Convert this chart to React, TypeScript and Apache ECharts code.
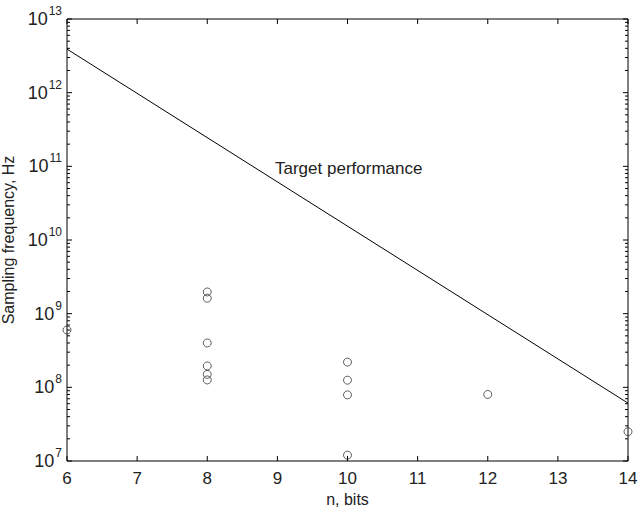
import React, { useEffect, useRef } from "react";
import * as echarts from "echarts";

const bitsA: number[] = [6, 8, 8, 8, 8, 8, 8, 10, 10, 10, 10, 12, 14];
const freqA: number[] = [6e8, 1.97e9, 1.62e9, 4.0e8, 1.95e8, 1.5e8, 1.26e8, 2.2e8, 1.25e8, 7.9e7, 1.2e7, 8e7, 2.5e7];
const targetBits: number[] = [6, 14];
const targetFreq: number[] = [3.9e12, 6.1e7];
const xTicks: number[] = [6, 7, 8, 9, 10, 11, 12, 13, 14];
const yDecades: number[] = [7, 8, 9, 10, 11, 12, 13];
const minorMultipliers: number[] = [2, 3, 4, 5, 6, 7, 8, 9];
const xLabel = "n, bits";
const yLabel = "Sampling frequency, Hz";
const annotation = "Target performance";

const X_MIN = 6, X_MAX = 14, Y_MIN = 1e7, Y_MAX = 1e13;
const GRID = { left: 67, right: 10, top: 19, bottom: 49 };
const W = 638, H = 510;

export default function App() {
  const ref = useRef<HTMLDivElement>(null);
  useEffect(() => {
    const chart = echarts.init(ref.current!, null, { renderer: "svg" });
    const font = "'Liberation Sans', Arial, Helvetica, sans-serif";
    const plotW = W - GRID.left - GRID.right;
    const plotH = H - GRID.top - GRID.bottom;
    const xPerPx = (X_MAX - X_MIN) / plotW;
    const decPerPx = Math.log10(Y_MAX / Y_MIN) / plotH;
    const major = 5, minor = 3;

    // frame
    const frame = [[X_MIN, Y_MIN], [X_MAX, Y_MIN], [X_MAX, Y_MAX], [X_MIN, Y_MAX], [X_MIN, Y_MIN]];

    // ticks as broken polyline
    const ticks: any[] = [];
    const gap = (x: number) => ticks.push([x, "-"]);
    xTicks.forEach((x) => {
      const f = Math.pow(10, major * decPerPx);
      ticks.push([x, Y_MIN], [x, Y_MIN * f]); gap(x);
      ticks.push([x, Y_MAX], [x, Y_MAX / f]); gap(x);
    });
    yDecades.forEach((d) => {
      const v = Math.pow(10, d);
      ticks.push([X_MIN, v], [X_MIN + major * xPerPx, v]); gap(X_MIN);
      ticks.push([X_MAX, v], [X_MAX - major * xPerPx, v]); gap(X_MAX);
      if (d < 13) {
        minorMultipliers.forEach((m) => {
          const mv = m * v;
          ticks.push([X_MIN, mv], [X_MIN + minor * xPerPx, mv]); gap(X_MIN);
          ticks.push([X_MAX, mv], [X_MAX - minor * xPerPx, mv]); gap(X_MAX);
        });
      }
    });

    const yFmt = (v: number) => `{b|10}{s|${Math.round(Math.log10(v))}}`;
    chart.setOption({
      animation: false,
      textStyle: { fontFamily: font },
      grid: { ...GRID, outerBoundsMode: "none" },
      xAxis: {
        type: "value", min: X_MIN, max: X_MAX, interval: 1,
        name: xLabel, nameLocation: "middle", nameGap: 28,
        nameTextStyle: { fontSize: 16, color: "#222", fontFamily: font },
        axisLine: { show: false, onZero: false },
        axisTick: { show: false },
        axisLabel: { fontSize: 17, color: "#222", margin: 9, fontFamily: font },
        splitLine: { show: false },
      },
      yAxis: {
        type: "log", min: Y_MIN, max: Y_MAX, logBase: 10,
        name: yLabel, nameLocation: "middle", nameGap: 44,
        nameTextStyle: { fontSize: 16, color: "#222", fontFamily: font },
        axisLine: { show: false, onZero: false },
        axisTick: { show: false },
        axisLabel: {
          formatter: yFmt, margin: 5, color: "#222",
          rich: {
            b: { fontSize: 18, color: "#222", fontFamily: font },
            s: { fontSize: 12, color: "#222", fontFamily: font, padding: [0, 0, 16, 1] },
          },
        },
        splitLine: { show: false },
      },
      series: [
        {
          type: "line",
          data: frame,
          symbol: "none",
          lineStyle: { color: "#000", width: 1 },
          clip: false,
          silent: true,
          z: 3,
        },
        {
          type: "line",
          data: ticks,
          symbol: "none",
          connectNulls: false,
          lineStyle: { color: "#000", width: 1 },
          clip: false,
          silent: true,
          z: 3,
        },
        {
          type: "line",
          data: targetBits.map((b, i) => [b, targetFreq[i]]),
          symbol: "none",
          lineStyle: { color: "#000", width: 1 },
          silent: true,
          z: 4,
        },
        {
          type: "scatter",
          data: bitsA.map((b, i) => [b, freqA[i]]),
          symbol: "circle",
          symbolSize: 8,
          itemStyle: { color: "rgba(0,0,0,0)", borderColor: "#222", borderWidth: 0.9 },
          clip: false,
          z: 5,
        },
      ],
      graphic: [
        {
          type: "text", left: 275, top: 160,
          style: { text: annotation, fontSize: 17, fill: "#222", fontFamily: font },
        },
      ],
    });
    return () => chart.dispose();
  }, []);
  return <div ref={ref} style={{ width: W, height: H, position: "absolute", left: 0, top: 0, background: "#fff" }} />;
}
